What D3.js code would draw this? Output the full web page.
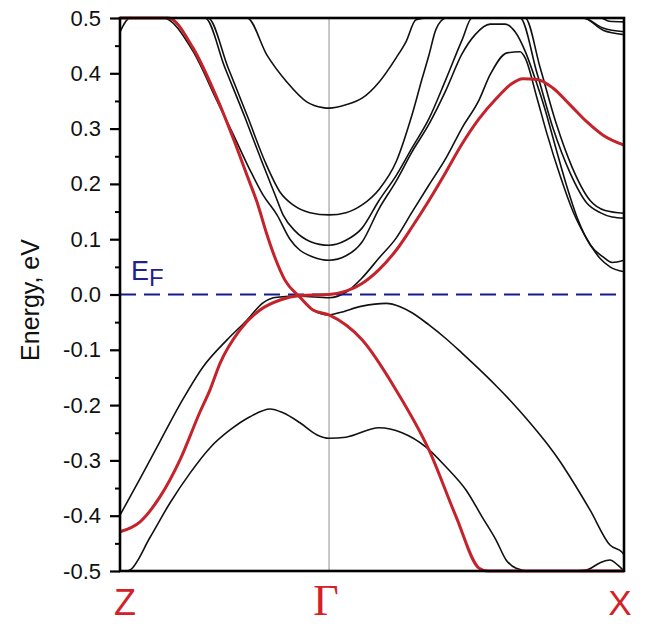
<!DOCTYPE html>
<html>
<head>
<meta charset="utf-8">
<script src="https://cdn.jsdelivr.net/npm/d3@7"></script>
<style>
  body { margin: 0; background: #fff; }
  svg { display: block; }
</style>
</head>
<body>
<svg id="chart" width="646" height="624"></svg>
<script>
// high symmetry points along the k path (Z - Gamma - X), path units
var kPoints = [0, 1, 2.411];
var kLabels = ["Z", "\u0393", "X"];
var yTicks = [-0.5, -0.4, -0.3, -0.2, -0.1, 0.0, 0.1, 0.2, 0.3, 0.4, 0.5];
var yMinor = [-0.45, -0.35, -0.25, -0.15, -0.05, 0.05, 0.15, 0.25, 0.35, 0.45];
var fermiLevel = 0.0;

// red bands [k, E(eV)]
var redBandA = [[0,0.56],[0.144,0.53],[0.23,0.5],[0.349,0.446],[0.464,0.355],[0.541,0.283],[0.612,0.211],[0.66,0.162],[0.699,0.113],[0.742,0.066],[0.789,0.026],[0.861,-0.005],[0.923,-0.028],[1,-0.037],[1.158,-0.082],[1.321,-0.173],[1.478,-0.281],[1.608,-0.402],[1.718,-0.495],[1.76,-0.56],[2.411,-0.56]];
var redBandB = [[0,-0.429],[0.096,-0.411],[0.191,-0.366],[0.287,-0.299],[0.383,-0.212],[0.431,-0.172],[0.478,-0.125],[0.574,-0.064],[0.67,-0.028],[0.766,-0.01],[0.861,-0.002],[1,0.0],[1.081,0.006],[1.158,0.02],[1.239,0.045],[1.321,0.08],[1.397,0.122],[1.478,0.17],[1.56,0.222],[1.636,0.272],[1.718,0.318],[1.799,0.354],[1.87,0.38],[1.928,0.39],[1.995,0.389],[2.072,0.373],[2.153,0.343],[2.234,0.312],[2.311,0.288],[2.411,0.27]];

// black bands
var bandV3 = [[0,-0.53],[0.033,-0.5],[0.048,-0.498],[0.144,-0.439],[0.239,-0.377],[0.335,-0.323],[0.431,-0.277],[0.526,-0.245],[0.622,-0.221],[0.718,-0.207],[0.78,-0.214],[0.861,-0.232],[0.943,-0.254],[1,-0.26],[1.081,-0.258],[1.239,-0.241],[1.349,-0.25],[1.464,-0.276],[1.56,-0.312],[1.656,-0.354],[1.732,-0.402],[1.799,-0.444],[1.847,-0.48],[1.895,-0.495],[1.957,-0.5],[2.033,-0.53],[2.177,-0.53],[2.234,-0.498],[2.297,-0.485],[2.344,-0.48],[2.383,-0.49],[2.411,-0.5]];
var bandV2 = [[0,0.56],[0.144,0.53],[0.23,0.5],[0.349,0.446],[0.464,0.355],[0.541,0.283],[0.612,0.211],[0.66,0.162],[0.699,0.113],[0.742,0.066],[0.789,0.026],[0.861,-0.005],[0.923,-0.028],[1,-0.037],[1.048,-0.033],[1.158,-0.021],[1.273,-0.016],[1.34,-0.022],[1.397,-0.033],[1.478,-0.055],[1.56,-0.08],[1.636,-0.106],[1.718,-0.135],[1.799,-0.165],[1.88,-0.197],[1.957,-0.23],[2.033,-0.265],[2.105,-0.302],[2.153,-0.33],[2.249,-0.39],[2.344,-0.453],[2.402,-0.466],[2.411,-0.47]];
var bandV1 = [[0,-0.399],[0.096,-0.333],[0.191,-0.266],[0.297,-0.192],[0.397,-0.131],[0.512,-0.082],[0.608,-0.046],[0.684,-0.015],[0.751,-0.005],[0.861,-0.003],[1,-0.006],[1.081,0.004],[1.158,0.03],[1.239,0.066],[1.321,0.102],[1.397,0.149],[1.478,0.198],[1.56,0.247],[1.636,0.301],[1.718,0.352],[1.77,0.397],[1.852,0.437],[1.914,0.439],[1.938,0.428],[1.995,0.355],[2.043,0.29],[2.105,0.215],[2.167,0.15],[2.234,0.1],[2.297,0.065],[2.344,0.05],[2.411,0.041]];
var bandC1 = [[0,0.475],[0.048,0.5],[0.12,0.53],[0.206,0.5],[0.349,0.44],[0.464,0.35],[0.541,0.29],[0.622,0.225],[0.684,0.18],[0.751,0.144],[0.813,0.1],[0.861,0.08],[0.923,0.068],[1,0.062],[1.081,0.07],[1.158,0.095],[1.239,0.155],[1.321,0.205],[1.397,0.258],[1.478,0.308],[1.56,0.37],[1.636,0.435],[1.699,0.47],[1.77,0.489],[1.842,0.489],[1.89,0.475],[1.938,0.44],[1.986,0.39],[2.033,0.335],[2.081,0.27],[2.134,0.2],[2.191,0.135],[2.249,0.09],[2.311,0.068],[2.354,0.058],[2.411,0.062]];
var bandC2 = [[0,0.6],[0.35,0.55],[0.407,0.5],[0.502,0.41],[0.598,0.32],[0.679,0.24],[0.742,0.18],[0.78,0.144],[0.837,0.115],[0.909,0.096],[1,0.089],[1.081,0.098],[1.158,0.12],[1.239,0.17],[1.321,0.215],[1.397,0.265],[1.478,0.318],[1.56,0.39],[1.636,0.46],[1.684,0.5],[1.746,0.54],[1.876,0.54],[1.938,0.5],[2.01,0.41],[2.086,0.31],[2.163,0.23],[2.249,0.17],[2.321,0.152],[2.411,0.147]];
var bandC3 = [[0,0.6],[0.35,0.55],[0.421,0.5],[0.517,0.41],[0.612,0.32],[0.694,0.24],[0.766,0.185],[0.828,0.162],[0.909,0.148],[1,0.144],[1.081,0.148],[1.158,0.162],[1.239,0.19],[1.321,0.24],[1.397,0.325],[1.445,0.39],[1.478,0.433],[1.512,0.48],[1.56,0.53],[1.866,0.53],[1.914,0.5],[1.995,0.4],[2.072,0.3],[2.153,0.22],[2.234,0.165],[2.297,0.148],[2.354,0.14],[2.411,0.138]];
var bandC4 = [[0,0.65],[0.55,0.56],[0.608,0.5],[0.703,0.433],[0.799,0.384],[0.895,0.348],[0.971,0.338],[1,0.337],[1.081,0.343],[1.158,0.355],[1.239,0.384],[1.321,0.428],[1.368,0.457],[1.416,0.497],[1.47,0.56],[2.1,0.56],[2.215,0.5],[2.311,0.482],[2.411,0.475]];
var bandC5 = [[2.15,0.55],[2.215,0.5],[2.311,0.478],[2.411,0.47]];
var bandC6 = [[2.2,0.55],[2.3,0.5],[2.34,0.494],[2.411,0.493]];

var blackBands = [bandV3, bandV2, bandV1, bandC1, bandC2, bandC3, bandC4, bandC5, bandC6];
var redBands = [redBandA, redBandB];

var margin = {top: 18, right: 22, bottom: 53, left: 120};
var W = 646, H = 624;
var width = W - margin.left - margin.right;
var height = H - margin.top - margin.bottom;

var svg = d3.select("#chart");
svg.append("rect").attr("width", W).attr("height", H).attr("fill", "#fff");

var g = svg.append("g").attr("transform", "translate(" + margin.left + "," + margin.top + ")");

var x = d3.scaleLinear().domain([kPoints[0], kPoints[2]]).range([0, width]);
var y = d3.scaleLinear().domain([-0.5, 0.5]).range([height, 0]).clamp(true);

var line = d3.line()
    .x(function (d) { return x(d[0]); })
    .y(function (d) { return y(d[1]); })
    .curve(d3.curveMonotoneX);

// gamma point vertical line
g.append("line")
    .attr("x1", x(kPoints[1])).attr("x2", x(kPoints[1]))
    .attr("y1", 0).attr("y2", height)
    .attr("stroke", "#a8a8a8").attr("stroke-width", 1.3);

g.selectAll("path.black")
    .data(blackBands)
    .enter().append("path")
    .attr("class", "black")
    .attr("d", line)
    .attr("fill", "none")
    .attr("stroke", "#111")
    .attr("stroke-width", 1.6);

// Fermi level
g.append("line")
    .attr("x1", 0).attr("x2", width)
    .attr("y1", y(fermiLevel)).attr("y2", y(fermiLevel))
    .attr("stroke", "#1a1a8c").attr("stroke-width", 2.2)
    .attr("stroke-dasharray", "16,8");

g.selectAll("path.red")
    .data(redBands)
    .enter().append("path")
    .attr("class", "red")
    .attr("d", line)
    .attr("fill", "none")
    .attr("stroke", "#c4232b")
    .attr("stroke-width", 3);

// frame
g.append("rect")
    .attr("width", width).attr("height", height)
    .attr("fill", "none").attr("stroke", "#000").attr("stroke-width", 2.6);

// y axis
var yAxis = d3.axisLeft(y)
    .tickValues(yTicks)
    .tickSize(10)
    .tickPadding(9)
    .tickFormat(function (d) { return d.toFixed(1); });
var ya = g.append("g").call(yAxis);
ya.select(".domain").remove();
ya.selectAll("line").attr("stroke", "#000").attr("stroke-width", 2.2);
ya.selectAll("text")
    .attr("font-family", "'Liberation Sans', Arial, sans-serif")
    .attr("font-size", 22)
    .attr("fill", "#111");

var ym = g.append("g").call(d3.axisLeft(y).tickValues(yMinor).tickSize(5).tickFormat(""));
ym.select(".domain").remove();
ym.selectAll("line").attr("stroke", "#000").attr("stroke-width", 2);

// axis title
svg.append("text")
    .attr("transform", "translate(39,300) rotate(-90)")
    .attr("text-anchor", "middle")
    .attr("font-family", "'Liberation Sans', Arial, sans-serif")
    .attr("font-size", 25)
    .attr("fill", "#111")
    .text("Energy, eV");

// E_F label
var ef = g.append("text")
    .attr("x", 11).attr("y", y(fermiLevel) - 15)
    .attr("font-family", "'Liberation Sans', Arial, sans-serif")
    .attr("fill", "#1f1f8f");
ef.append("tspan").attr("font-size", 27).text("E");
ef.append("tspan").attr("font-size", 24).attr("dy", 6).text("F");

// k point labels
var kFonts = ["'Liberation Sans', Arial, sans-serif", "'Liberation Serif', 'Times New Roman', serif", "'Liberation Sans', Arial, sans-serif"];
var kSizes = [36, 44, 35];
var kShift = [5, -3, -4];
g.selectAll("text.kp")
    .data(kLabels)
    .enter().append("text")
    .attr("class", "kp")
    .attr("x", function (d, i) { return x(kPoints[i]) + kShift[i]; })
    .attr("y", height + 44)
    .attr("text-anchor", "middle")
    .attr("font-family", function (d, i) { return kFonts[i]; })
    .attr("font-size", function (d, i) { return kSizes[i]; })
    .attr("fill", "#d42027")
    .text(function (d) { return d; });
</script>
</body>
</html>
